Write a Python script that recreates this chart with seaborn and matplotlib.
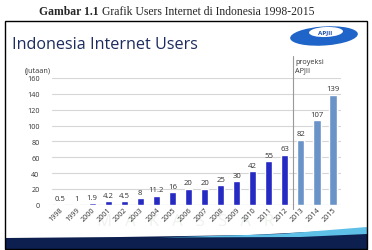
import numpy as np
import pandas as pd
import matplotlib.pyplot as plt
import seaborn as sns
from matplotlib.patches import Rectangle, Ellipse, Polygon

# data (juta users)
years = [str(y) for y in range(1998, 2016)]
users = [0.5, 1, 1.9, 4.2, 4.5, 8, 11.2, 16, 20, 20, 25, 30, 42, 55, 63, 82, 107, 139]
labels = ["0.5", "1", "1.9", "4.2", "4.5", "8", "11.2", "16", "20", "20",
          "25", "30", "42", "55", "63", "82", "107", "139"]
kind = ["actual"] * 15 + ["proyeksi"] * 3

df = pd.DataFrame({"year": years, "users": users, "kind": kind})

sns.set_style("white")
plt.rcParams['font.family'] = ['Open Sans', 'DejaVu Sans']

fig = plt.figure(figsize=(3.72, 2.51), dpi=100)
W, H = 372, 251

# caption above the slide: bold part, then the rest right after it
cap1 = fig.text(39 / W, 1 - 12 / H, "Gambar 1.1", ha="left", va="center",
                fontsize=8.4, family="Liberation Serif", fontweight="bold")
fig.canvas.draw()
bb = cap1.get_window_extent(fig.canvas.get_renderer())
fig.text((bb.x1 + 3) / W, 1 - 12 / H, "Grafik Users Internet di Indonesia 1998-2015",
         ha="left", va="center", fontsize=8.4, family="Liberation Serif")

# slide frame
fig.patches.append(Rectangle((5 / W, 1 / H), 362 / W, 228 / H, transform=fig.transFigure,
                             fill=False, edgecolor="black", linewidth=1.0, zorder=5))
# bottom band (dark navy with light blue sweep on the right)
fig.patches.append(Polygon([(5 / W, 1 / H), (5 / W, 12 / H), (120 / W, 13 / H),
                            (250 / W, 15 / H), (367 / W, 21 / H), (367 / W, 1 / H)],
                           closed=True, transform=fig.transFigure,
                           facecolor="#0c1f4f", edgecolor="none", zorder=1))
fig.patches.append(Polygon([(160 / W, 12.5 / H), (280 / W, 16 / H), (367 / W, 23 / H),
                            (367 / W, 16 / H), (300 / W, 13 / H)], closed=True,
                           transform=fig.transFigure,
                           facecolor="#5ec0e6", edgecolor="none", zorder=1))

# slide title
fig.text(12 / W, 1 - 45 / H, "Indonesia Internet Users", ha="left", va="center",
         fontsize=11.6, color="#1c2c5e")

# APJII logo
fig.patches.append(Ellipse((324 / W, 1 - 37 / H), 68 / W, 19 / H, angle=6,
                           transform=fig.transFigure, facecolor="#1f64c8",
                           edgecolor="none", zorder=2))
fig.patches.append(Ellipse((326 / W, 1 - 33 / H), 34 / W, 10 / H, angle=4,
                           transform=fig.transFigure, facecolor="white",
                           edgecolor="none", zorder=3))
fig.text(325 / W, 1 - 33 / H, "APJII", ha="center", va="center", fontsize=4.5,
         color="#1f4fa8", fontweight="bold", zorder=4)

# faint watermark
fig.text(0.5, 1 - 222 / H, "M   A   K   A   S   S   A   R", ha="center", va="center",
         fontsize=12, color="#eef3ee", zorder=-1)

ax = fig.add_axes([52 / W, 45.3 / H, 289 / W, 126.7 / H])
ax.set_facecolor("none")
sns.barplot(data=df, x="year", y="users", hue="kind",
            palette={"actual": "#0a12dc", "proyeksi": "#5a93d8"},
            width=0.45, dodge=False, legend=False, ax=ax, zorder=3)

for i, (v, t) in enumerate(zip(users, labels)):
    ax.text(i, v + 3, t, ha="center", va="bottom", fontsize=5.6, color="#333333")

ax.set_ylim(0, 160)
ax.set_xlim(-0.5, 17.5)
ax.set_yticks(range(0, 161, 20))
ax.yaxis.grid(True, color="#d6d6d6", linewidth=0.8, zorder=0)
ax.tick_params(axis="y", labelsize=5.2, colors="#333333", length=0, pad=9)
ax.tick_params(axis="x", labelsize=5.2, colors="#333333", length=0, pad=1)
plt.setp(ax.get_xticklabels(), rotation=45, ha="right", rotation_mode="anchor")
ax.set_xlabel("")
ax.set_ylabel("")
for s in ax.spines.values():
    s.set_visible(False)
ax.axhline(0, color="#bbbbbb", linewidth=0.8, zorder=2)

# projection separator
ax.axvline(14.5, ymin=-0.03, ymax=1.17, color="#999999", linewidth=0.8, clip_on=False)
ax.text(14.65, 166, "proyeksi\nAPJII", ha="left", va="bottom", fontsize=5.2,
        color="#333333", linespacing=1.3)
ax.text(-0.6, 165, "(jutaan)", ha="right", va="bottom", fontsize=5.2,
        color="#333333")

fig.savefig("out.png", dpi=100)
